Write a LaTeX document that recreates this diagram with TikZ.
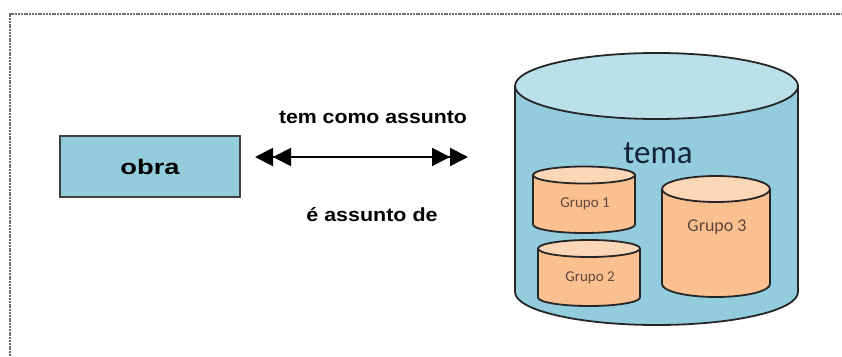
\documentclass[tikz,border=0pt]{standalone}
\usepackage{fontspec}
\setmainfont{Liberation Sans}
\newfontfamily\calfont{Carlito}
\usetikzlibrary{arrows.meta}
\definecolor{blueside}{RGB}{146,204,221}
\definecolor{bluetop}{RGB}{186,224,234}
\definecolor{orside}{RGB}{250,192,144}
\definecolor{ortop}{RGB}{252,214,182}
\definecolor{grtext}{RGB}{95,70,60}
\definecolor{tematext}{RGB}{20,35,55}
\definecolor{framegray}{RGB}{110,110,110}
\newcommand\drawcyl[7]{%
  \fill[#6] (#1-#2,#4) -- (#1-#2,#5) arc[start angle=180,end angle=360,x radius=#2,y radius=#3] -- (#1+#2,#4) -- cycle;
  \draw[cylline] (#1-#2,#4) -- (#1-#2,#5) arc[start angle=180,end angle=360,x radius=#2,y radius=#3] -- (#1+#2,#4);
  \draw[cylline,fill=#7] (#1,#4) ellipse[x radius=#2,y radius=#3];
}
\begin{document}
\begin{tikzpicture}[x=1pt,y=1pt,
  cylline/.style={line width=1.8pt,draw=black!85},
  boxstyle/.style={draw=black!75,line width=1.8pt,fill=blueside,minimum width=180pt,minimum height=61pt,inner sep=0pt},
  lbl/.style={font=\fontsize{19}{22}\selectfont\bfseries,inner sep=0pt},
  grp/.style={font=\calfont\fontsize{15}{18}\selectfont,text=grtext,inner sep=0pt},
  tip/.tip={Triangle[length=18pt,width=18pt]}]
\useasboundingbox (0,0) rectangle (842,356);
% frame
\draw[framegray,line width=1.3pt,dash pattern=on 2pt off 0.8pt] (10,0) -- (10,342) -- (842,342);
% obra
\node[boxstyle] (obra) at (150,189.5) {\fontsize{21}{24}\selectfont\bfseries\scalebox{1.3}[1]{obra}};
% arrow
\coordinate (aL) at (255,199);
\coordinate (aR) at (468,199);
\draw[line width=2pt,{tip[] tip[]}-{tip[] tip[]}] (aL) -- (aR);
\node[lbl] (lab1) at (373,239) {\scalebox{1.12}[1]{tem como assunto}};
\node[lbl] (lab2) at (372,141) {\scalebox{1.13}[1]{é assunto de}};
% big cylinder
\drawcyl{656.5}{141.5}{33}{270}{64}{blueside}{bluetop}
\node[font=\calfont\fontsize{33}{36}\selectfont,text=tematext,inner sep=0pt] (tema) at (658,203) {tema};
% groups
\drawcyl{584}{51}{8.5}{181}{131.5}{orside}{ortop}
\node[grp] (g1) at (585,152) {Grupo 1};
\drawcyl{589}{51}{8.5}{107.5}{58.5}{orside}{ortop}
\node[grp] (g2) at (590,78) {Grupo 2};
\drawcyl{716}{54}{13}{167}{72}{orside}{ortop}
\node[grp,font=\calfont\fontsize{18}{21}\selectfont] (g3) at (717,129) {Grupo 3};
\end{tikzpicture}
\end{document}
